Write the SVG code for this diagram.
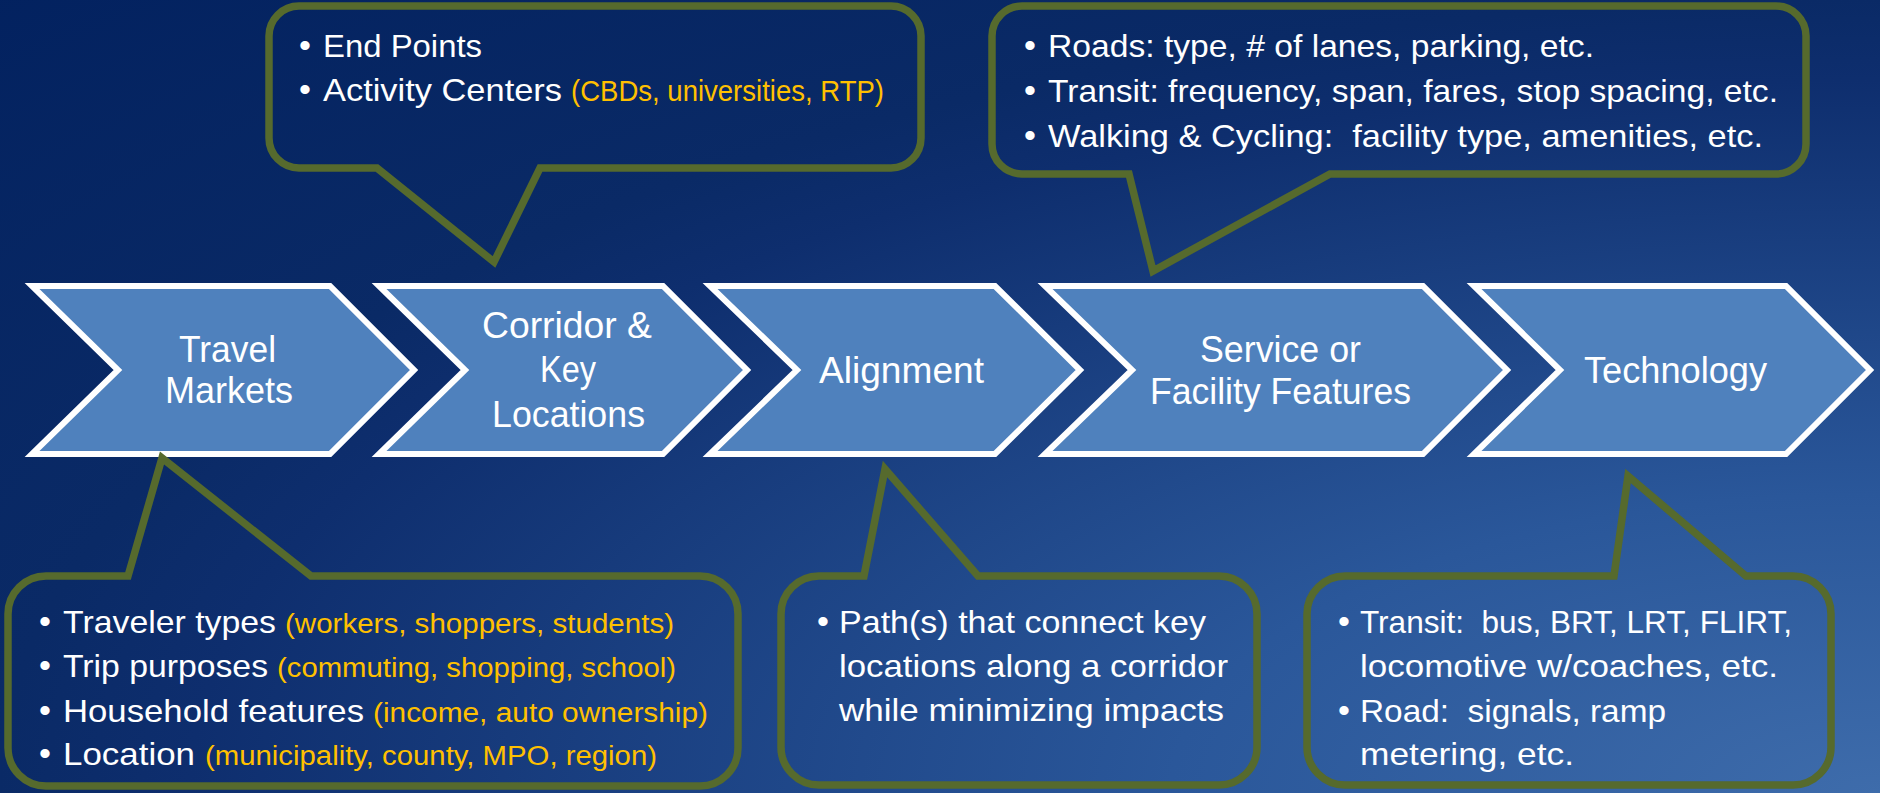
<svg xmlns="http://www.w3.org/2000/svg" width="1880" height="793" viewBox="0 0 1880 793">
<defs>
<radialGradient id="bg" gradientUnits="objectBoundingBox" cx="1" cy="1" r="1.45" fx="1" fy="1">
<stop offset="0" stop-color="#3E6CAB"/>
<stop offset="0.26" stop-color="#2A579A"/>
<stop offset="0.62" stop-color="#0E2E6E"/>
<stop offset="0.69" stop-color="#0A2A66"/>
<stop offset="1" stop-color="#02215F"/>
</radialGradient>
</defs>
<style>
.chev{fill:#4F81BD;stroke:#FFFFFF;stroke-width:6;stroke-linejoin:miter;stroke-miterlimit:10}
.call{fill:none;stroke:#566A2D;stroke-width:7.5;stroke-linejoin:miter;stroke-miterlimit:10}
text{font-family:"Liberation Sans",Arial,sans-serif;white-space:pre}
.lbl{fill:#FFFFFF;font-size:36px}
.w{fill:#FFFFFF;font-size:32px}
.o{fill:#FFC000;font-size:27px}
.o2{fill:#FFC000;font-size:30px}
.b{fill:#FFFFFF;font-size:34px}
</style>
<rect x="0" y="0" width="1880" height="793" fill="url(#bg)"/>

<g id="chevron-travel-markets">
<polygon class="chev" points="32,286 330,286 414,370 330,454 32,454 118,370"/>
<text class="lbl" x="179" y="362" textLength="97" lengthAdjust="spacingAndGlyphs">Travel</text>
<text class="lbl" x="165" y="403" textLength="128" lengthAdjust="spacingAndGlyphs">Markets</text>
</g>
<g id="chevron-corridor">
<polygon class="chev" points="379,286 663,286 747,370 663,454 379,454 465,370"/>
<text class="lbl" x="482" y="338" textLength="170" lengthAdjust="spacingAndGlyphs">Corridor &amp;</text>
<text class="lbl" x="540" y="382" textLength="56" lengthAdjust="spacingAndGlyphs">Key</text>
<text class="lbl" x="492" y="427" textLength="153" lengthAdjust="spacingAndGlyphs">Locations</text>
</g>
<g id="chevron-alignment">
<polygon class="chev" points="710,286 995,286 1080,370 995,454 710,454 797,370"/>
<text class="lbl" x="819" y="383" textLength="165" lengthAdjust="spacingAndGlyphs">Alignment</text>
</g>
<g id="chevron-service">
<polygon class="chev" points="1045,286 1423,286 1507,370 1423,454 1045,454 1132,370"/>
<text class="lbl" x="1200" y="362" textLength="161" lengthAdjust="spacingAndGlyphs">Service or</text>
<text class="lbl" x="1150" y="404" textLength="261" lengthAdjust="spacingAndGlyphs">Facility Features</text>
</g>
<g id="chevron-technology">
<polygon class="chev" points="1474,286 1786,286 1870,370 1786,454 1474,454 1560,370"/>
<text class="lbl" x="1584" y="383" textLength="183" lengthAdjust="spacingAndGlyphs">Technology</text>
</g>

<g id="callout-corridor">
<path class="call" d="M299,6 H891 A30,30 0 0 1 921,36 V138 A30,30 0 0 1 891,168 H540 L494,262 L377,168 H299 A30,30 0 0 1 269,138 V36 A30,30 0 0 1 299,6 Z"/>
<text class="b" x="299" y="57">•</text>
<text class="w" x="323" y="57" textLength="159" lengthAdjust="spacingAndGlyphs">End Points</text>
<text class="b" x="299" y="101">•</text>
<text class="w" x="323" y="101" textLength="239" lengthAdjust="spacingAndGlyphs">Activity Centers</text>
<text class="o2" x="571" y="101" textLength="313" lengthAdjust="spacingAndGlyphs">(CBDs, universities, RTP)</text>
</g>

<g id="callout-service">
<path class="call" d="M1022,6 H1776 A30,30 0 0 1 1806,36 V144 A30,30 0 0 1 1776,174 H1330 L1153,271 L1129,174 H1022 A30,30 0 0 1 992,144 V36 A30,30 0 0 1 1022,6 Z"/>
<text class="b" x="1024" y="57">•</text>
<text class="w" x="1048" y="57" textLength="546" lengthAdjust="spacingAndGlyphs">Roads: type, # of lanes, parking, etc.</text>
<text class="b" x="1024" y="102">•</text>
<text class="w" x="1048" y="102" textLength="730" lengthAdjust="spacingAndGlyphs">Transit: frequency, span, fares, stop spacing, etc.</text>
<text class="b" x="1024" y="147">•</text>
<text class="w" x="1048" y="147" textLength="715" lengthAdjust="spacingAndGlyphs">Walking &amp; Cycling:  facility type, amenities, etc.</text>
</g>

<g id="callout-travel-markets">
<path class="call" d="M46,576 H128 L162,458 L311,576 H700 A38,38 0 0 1 738,614 V748 A38,38 0 0 1 700,786 H46 A38,38 0 0 1 8,748 V614 A38,38 0 0 1 46,576 Z"/>
<text class="b" x="39" y="633">•</text>
<text class="w" x="63" y="633" textLength="213" lengthAdjust="spacingAndGlyphs">Traveler types</text>
<text class="o" x="285" y="633" textLength="389" lengthAdjust="spacingAndGlyphs">(workers, shoppers, students)</text>
<text class="b" x="39" y="677">•</text>
<text class="w" x="63" y="677" textLength="205" lengthAdjust="spacingAndGlyphs">Trip purposes</text>
<text class="o" x="277" y="677" textLength="399" lengthAdjust="spacingAndGlyphs">(commuting, shopping, school)</text>
<text class="b" x="39" y="722">•</text>
<text class="w" x="63" y="722" textLength="301" lengthAdjust="spacingAndGlyphs">Household features</text>
<text class="o" x="373" y="722" textLength="335" lengthAdjust="spacingAndGlyphs">(income, auto ownership)</text>
<text class="b" x="39" y="765">•</text>
<text class="w" x="63" y="765" textLength="132" lengthAdjust="spacingAndGlyphs">Location</text>
<text class="o" x="205" y="765" textLength="452" lengthAdjust="spacingAndGlyphs">(municipality, county, MPO, region)</text>
</g>

<g id="callout-alignment">
<path class="call" d="M819,576 H864 L885,469 L978,576 H1219 A38,38 0 0 1 1257,614 V747 A38,38 0 0 1 1219,785 H819 A38,38 0 0 1 781,747 V614 A38,38 0 0 1 819,576 Z"/>
<text class="b" x="817" y="633">•</text>
<text class="w" x="839" y="633" textLength="367" lengthAdjust="spacingAndGlyphs">Path(s) that connect key</text>
<text class="w" x="839" y="677" textLength="389" lengthAdjust="spacingAndGlyphs">locations along a corridor</text>
<text class="w" x="839" y="721" textLength="385" lengthAdjust="spacingAndGlyphs">while minimizing impacts</text>
</g>

<g id="callout-technology">
<path class="call" d="M1345,576 H1614 L1628,476 L1746,576 H1793 A38,38 0 0 1 1831,614 V747 A38,38 0 0 1 1793,785 H1345 A38,38 0 0 1 1307,747 V614 A38,38 0 0 1 1345,576 Z"/>
<text class="b" x="1338" y="633">•</text>
<text class="w" x="1360" y="633" textLength="432" lengthAdjust="spacingAndGlyphs">Transit:  bus, BRT, LRT, FLIRT,</text>
<text class="w" x="1360" y="677" textLength="418" lengthAdjust="spacingAndGlyphs">locomotive w/coaches, etc.</text>
<text class="b" x="1338" y="722">•</text>
<text class="w" x="1360" y="722" textLength="306" lengthAdjust="spacingAndGlyphs">Road:  signals, ramp</text>
<text class="w" x="1360" y="765" textLength="214" lengthAdjust="spacingAndGlyphs">metering, etc.</text>
</g>

<g id="connectors"></g>
</svg>
